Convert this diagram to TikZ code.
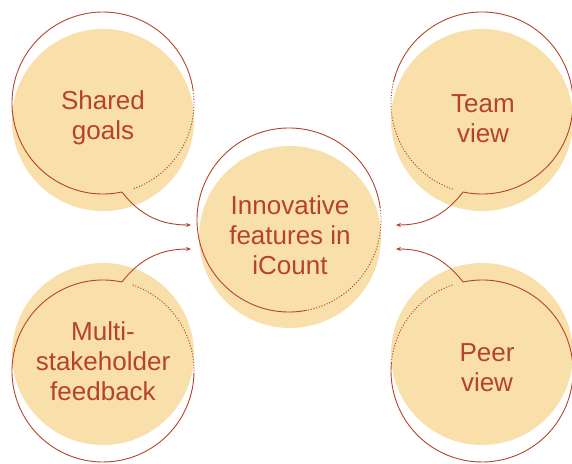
\documentclass[tikz,border=0pt]{standalone}
\usepackage{fontspec}
\setmainfont{Liberation Sans}
\usetikzlibrary{arrows.meta,calc}
\definecolor{peach}{HTML}{F9DFA9}
\definecolor{rust}{HTML}{B5432A}
\begin{document}
\begin{tikzpicture}[x=1pt,y=1pt,
  blob/.style={circle,fill=peach,minimum size=182pt,inner sep=0pt},
  lbl/.style={text=rust,align=center,font=\fontsize{26}{30}\selectfont},
  ring/.style={draw=rust,line width=0.9pt},
  ringdot/.style={draw=rust,line width=0.9pt,dash pattern=on 1.1pt off 1.7pt},
  tail/.style={draw=rust,line width=0.9pt,-{Stealth[length=5pt,width=4pt]}}]
\useasboundingbox (0,0) rectangle (572,463);
% filled discs
\node[blob] (sgf) at (103,343) {};
\node[blob] (tvf) at (482,343) {};
\node[blob] (cf)  at (290,226) {};
\node[blob] (msf) at (103,109) {};
\node[blob] (pvf) at (482,109) {};
% outline centres
\coordinate (sgo) at (103,360);
\coordinate (tvo) at (482,360);
\coordinate (co)  at (289,243);
\coordinate (mso) at (103,92);
\coordinate (pvo) at (482,92);
% Shared goals outline
\draw[ring] ($(sgo)+(282:91pt)$) arc[start angle=282,end angle=8,radius=91pt];
\draw[ringdot] ($(sgo)+(8:91pt)$) arc[start angle=8,end angle=-71,radius=91pt];
% Team view outline
\draw[ring] ($(tvo)+(-102:91pt)$) arc[start angle=-102,end angle=166,radius=91pt];
\draw[ringdot] ($(tvo)+(166:91pt)$) arc[start angle=166,end angle=252,radius=91pt];
% centre outline
\draw[ring] ($(co)+(281:92pt)$) arc[start angle=281,end angle=8,radius=92pt];
\draw[ringdot] ($(co)+(8:92pt)$) arc[start angle=8,end angle=-79,radius=92pt];
% Multi-stakeholder outline
\draw[ring] ($(mso)+(78:91pt)$) arc[start angle=78,end angle=359,radius=91pt];
\draw[ringdot] ($(mso)+(71:91pt)$) arc[start angle=71,end angle=-1,radius=91pt];
% Peer view outline
\draw[ring] ($(pvo)+(102:91pt)$) arc[start angle=102,end angle=-185,radius=91pt];
\draw[ringdot] ($(pvo)+(109:91pt)$) arc[start angle=109,end angle=175,radius=91pt];
% tail starts and arrow ends
\coordinate (sgt) at ($(sgo)+(282:91pt)$);
\coordinate (tvt) at ($(tvo)+(-102:91pt)$);
\coordinate (mst) at ($(mso)+(78:91pt)$);
\coordinate (pvt) at ($(pvo)+(102:91pt)$);
\coordinate (sga) at (191,238);
\coordinate (tva) at (396,238);
\coordinate (msa) at (191,214);
\coordinate (pva) at (396,214);
\draw[tail] (sgt) to[out=-52,in=180] (sga);
\draw[tail] (tvt) to[out=-128,in=0] (tva);
\draw[tail] (mst) to[out=52,in=180] (msa);
\draw[tail] (pvt) to[out=128,in=0] (pva);
% labels
\node[lbl] (sg) at (103,345) {Shared\\goals};
\node[lbl] (tv) at (483,344) {Team\\view};
\node[lbl] (c)  at (290,228) {Innovative\\features in\\iCount};
\node[lbl] (ms) at (103,102) {Multi-\\stakeholder\\feedback};
\node[lbl] (pv) at (487,95) {Peer\\view};
\end{tikzpicture}
\end{document}
